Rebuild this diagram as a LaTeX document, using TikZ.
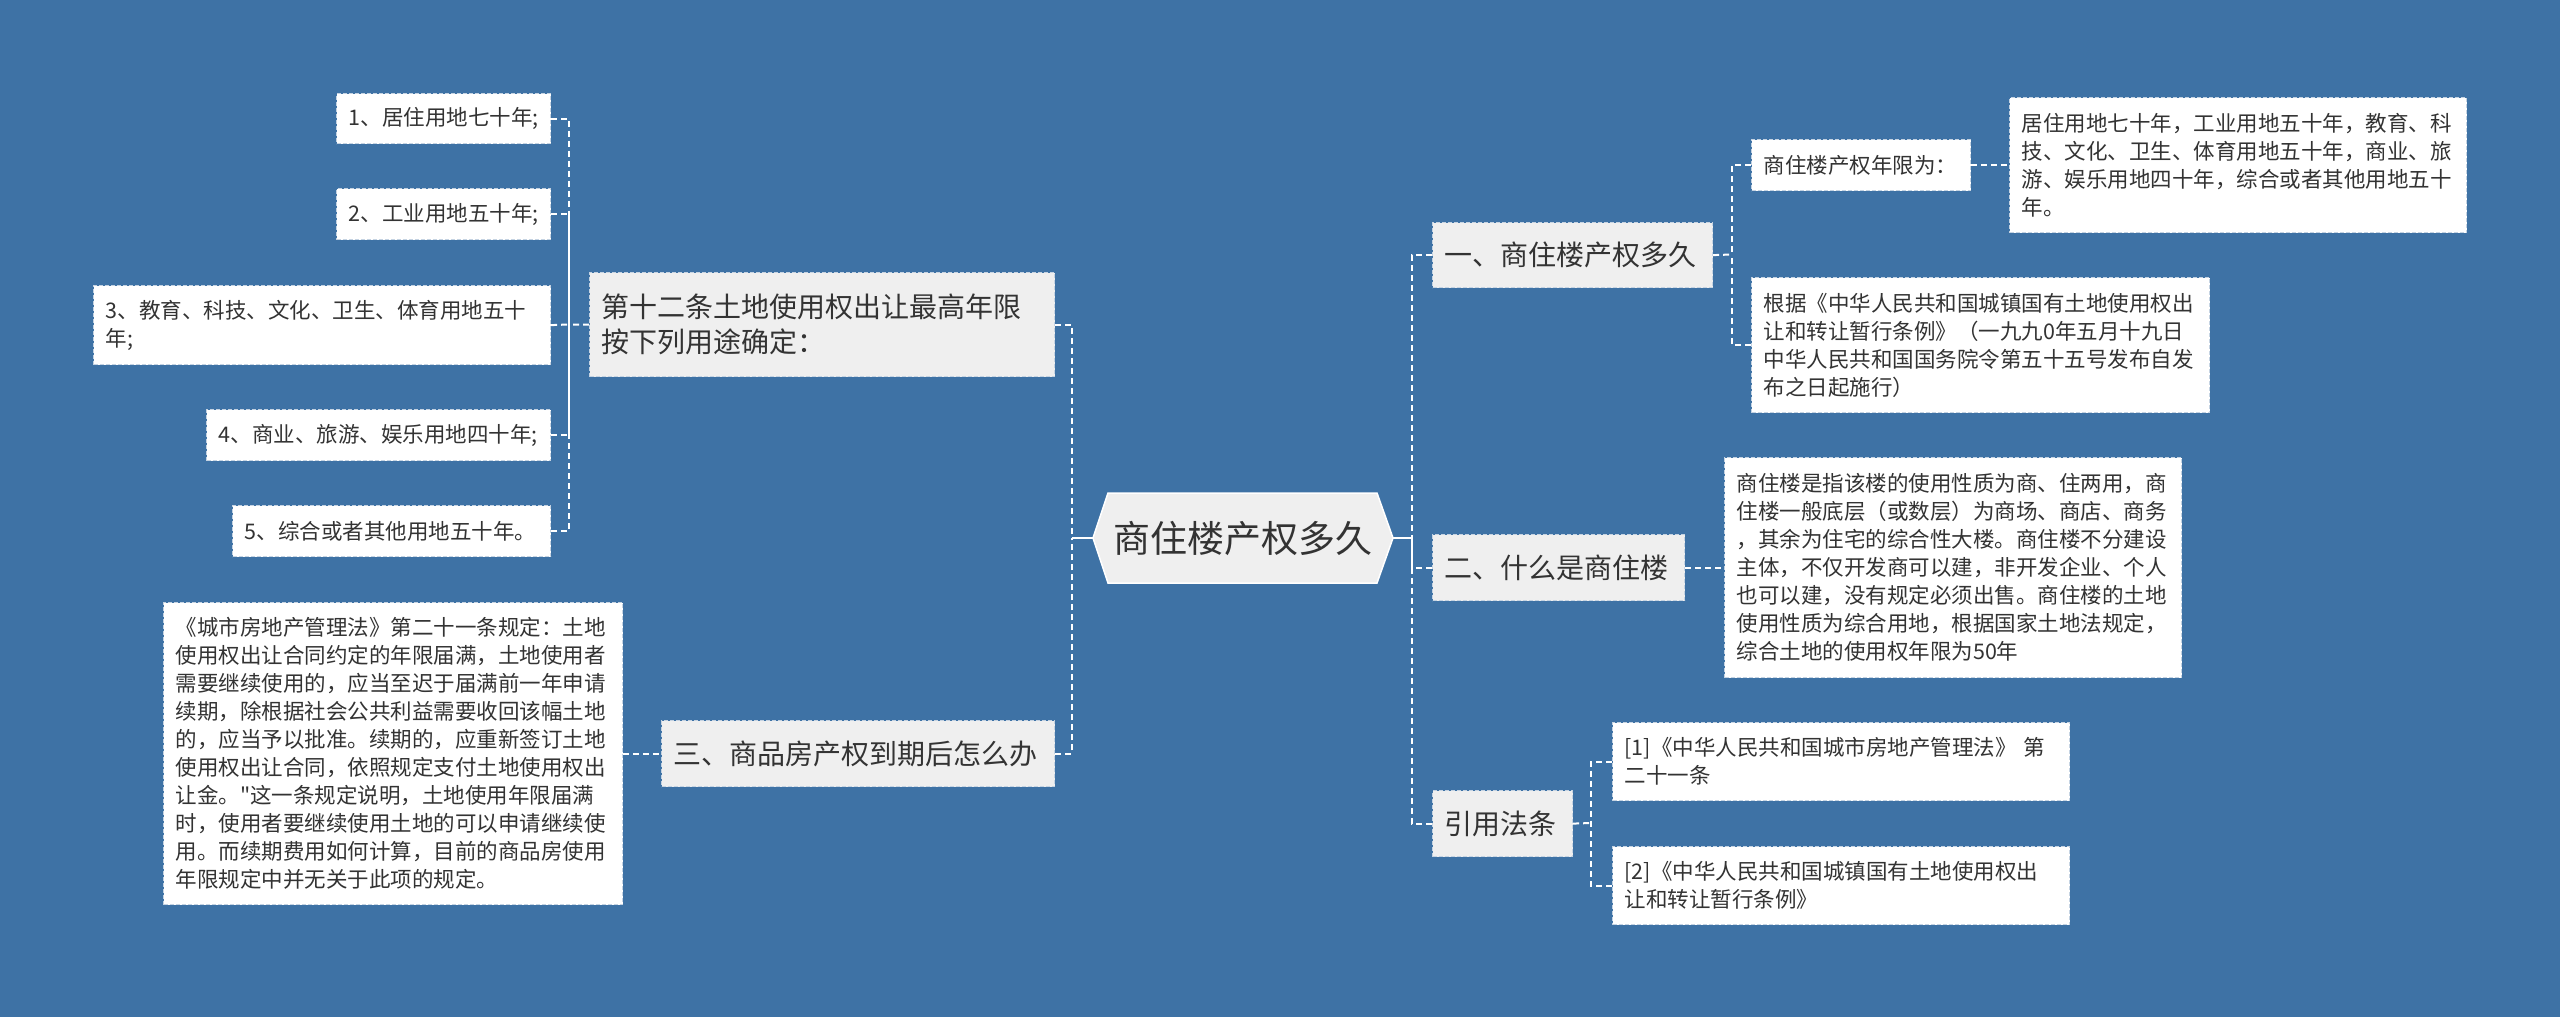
\documentclass[tikz,border=0pt]{standalone}
\usepackage{fontspec}
\setmainfont{Noto Sans CJK SC}[Ligatures=TeXOff]
\definecolor{bg}{HTML}{3E72A5}
\definecolor{tx}{HTML}{333333}
\definecolor{gbox}{HTML}{EFEFEF}
\definecolor{bd}{HTML}{C5D3E2}
\tikzset{
  box/.style={draw=bd, dash pattern=on 4pt off 2pt, line width=1.2pt, text=tx,
    inner xsep=12pt, inner ysep=0pt, align=left, anchor=north west},
  leaf/.style={box, fill=white, font=\fontsize{21.5}{28}\selectfont},
  topic/.style={box, fill=gbox, font=\fontsize{28}{35}\selectfont},
  conn/.style={draw=white, line width=2pt, dash pattern=on 6pt off 4pt},
  solidconn/.style={draw=white, line width=2pt},
}
\begin{document}
\begin{tikzpicture}[x=1pt,y=-1pt]
\useasboundingbox[fill=bg] (0,0) rectangle (2560,1017);

% central hexagon
\fill[gbox, draw=white, line width=1.5pt] (1093,538) -- (1108,493) -- (1377,493) -- (1393,538) -- (1377,583) -- (1108,583) -- cycle;
\node[font=\fontsize{37}{44}\selectfont, text=tx, minimum width=300pt, minimum height=90pt, inner sep=0pt] (c) at (1243,538) {商住楼产权多久};

% left side
\node[leaf, text width=190pt, minimum height=50pt] (L1) at (336,93) {1、居住用地七十年;};
\node[leaf, text width=190pt, minimum height=51pt] (L2) at (336,188) {2、工业用地五十年;};
\node[leaf, text width=433pt, minimum height=79pt] (L3) at (93,285) {3、教育、科技、文化、卫生、体育用地五十\\年;};
\node[leaf, text width=320pt, minimum height=51pt] (L4) at (206,409) {4、商业、旅游、娱乐用地四十年;};
\node[leaf, text width=294pt, minimum height=51pt] (L5) at (232,505) {5、综合或者其他用地五十年。};
\node[topic, text width=441pt, minimum height=104pt] (T12) at (589,272) {第十二条土地使用权出让最高年限\\按下列用途确定：};
\node[leaf, text width=435pt, minimum height=302pt] (LL) at (163,602) {《城市房地产管理法》第二十一条规定：土地\\使用权出让合同约定的年限届满，土地使用者\\需要继续使用的，应当至迟于届满前一年申请\\续期，除根据社会公共利益需要收回该幅土地\\的，应当予以批准。续期的，应重新签订土地\\使用权出让合同，依照规定支付土地使用权出\\让金。"这一条规定说明，土地使用年限届满\\时，使用者要继续使用土地的可以申请继续使\\用。而续期费用如何计算，目前的商品房使用\\年限规定中并无关于此项的规定。};
\node[topic, text width=369pt, minimum height=66pt] (T3) at (661,720) {三、商品房产权到期后怎么办};

% right side
\node[topic, text width=256pt, minimum height=65pt] (T1) at (1432,222) {一、商住楼产权多久};
\node[leaf, text width=195pt, minimum height=51pt] (R1a) at (1751,139) {商住楼产权年限为：};
\node[leaf, text width=433pt, minimum height=135pt] (R1b) at (2009,97) {居住用地七十年，工业用地五十年，教育、科\\技、文化、卫生、体育用地五十年，商业、旅\\游、娱乐用地四十年，综合或者其他用地五十\\年。};
\node[leaf, text width=434pt, minimum height=135pt] (R1c) at (1751,277) {根据《中华人民共和国城镇国有土地使用权出\\让和转让暂行条例》（一九九0年五月十九日\\中华人民共和国国务院令第五十五号发布自发\\布之日起施行）};
\node[topic, text width=228pt, minimum height=66pt] (T2) at (1432,534) {二、什么是商住楼};
\node[leaf, text width=433pt, minimum height=220pt] (R2) at (1724,457) {商住楼是指该楼的使用性质为商、住两用，商\\住楼一般底层（或数层）为商场、商店、商务\\，其余为住宅的综合性大楼。商住楼不分建设\\主体，不仅开发商可以建，非开发企业、个人\\也可以建，没有规定必须出售。商住楼的土地\\使用性质为综合用地，根据国家土地法规定，\\综合土地的使用权年限为50年};
\node[topic, text width=116pt, minimum height=66pt] (T4) at (1432,790) {引用法条};
\node[leaf, text width=433pt, minimum height=78pt] (R4a) at (1612,722) {[1]《中华人民共和国城市房地产管理法》 第\\二十一条};
\node[leaf, text width=433pt, minimum height=78pt] (R4b) at (1612,846) {[2]《中华人民共和国城镇国有土地使用权出\\让和转让暂行条例》};

% junctions
\coordinate (lj) at (1072,538);
\coordinate (lj2) at (569,324.5);
\coordinate (rj) at (1412,538);
\coordinate (rj1) at (1732,254.5);
\coordinate (rj4) at (1591,823);

% connectors
\draw[solidconn] (c.west) -- (lj);
\draw[conn] (T12.east) -| (lj);
\draw[conn] (T3.east) -| (lj);
\draw[conn] (T12.west) -- (lj2);
\draw[conn] (L1.east) -| (lj2);
\draw[conn] (L2.east) -| (lj2);
\draw[conn] (L3.east) -- (lj2);
\draw[conn] (L4.east) -| (lj2);
\draw[conn] (L5.east) -| (lj2);
\draw[conn] (LL.east) -- (T3.west);

\draw[solidconn] (c.east) -- (rj);
\draw[conn] (T1.west) -| (rj);
\draw[conn] (T2.west) -| (rj);
\draw[conn] (T4.west) -| (rj);
\draw[conn] (T1.east) -- (rj1);
\draw[conn] (R1a.west) -| (rj1);
\draw[conn] (R1c.west) -| (rj1);
\draw[conn] (R1a.east) -- (R1b.west);
\draw[conn] (T2.east) -- (R2.west);
\draw[conn] (T4.east) -- (rj4);
\draw[conn] (R4a.west) -| (rj4);
\draw[conn] (R4b.west) -| (rj4);
\end{tikzpicture}
\end{document}
